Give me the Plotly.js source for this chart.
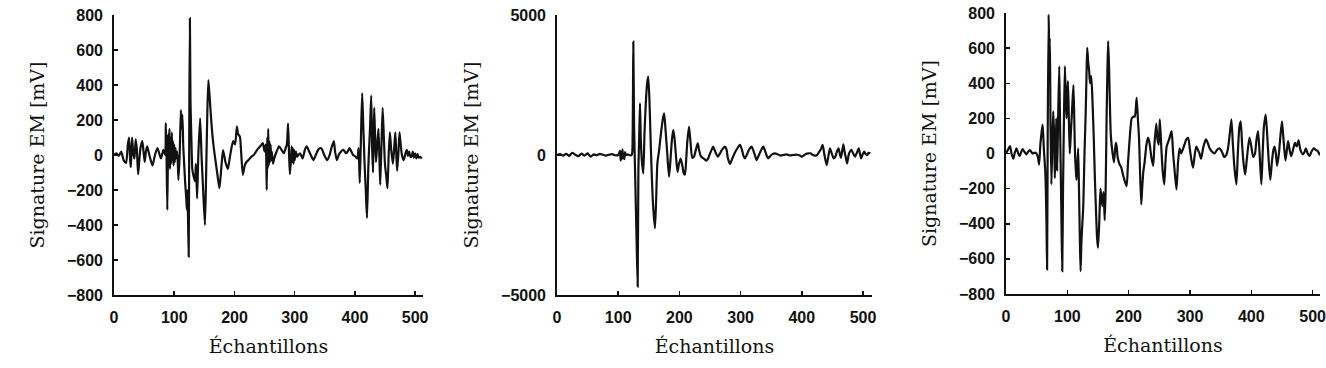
<!DOCTYPE html>
<html>
<head>
<meta charset="utf-8">
<script src="https://cdn.plot.ly/plotly-3.0.1.min.js"></script>
<style>html,body{margin:0;padding:0;background:#fff;overflow:hidden;}#chart{width:1326px;height:368px;}</style>
</head>
<body>
<div id="chart"></div>
<script>
// Signal 1 (samples, mV)
const s1x = [0,4,8,12,16,20,23,25,27,28,30,32,34,36,38,40,42,44,47,49,51,53,55,58,61,64,68,72,75,78,82,85,86,87,88.5,90,91,92,93,94,95,96,97,98,99,100,101,102,103,105,107,109,111,112,113.5,115,116,118,120,121,122,124,125,126,127,128.5,130,132,134.5,136,138,140,143,145.5,148,151,153,155,156.7,159,162,165,168,172,175,178,181,185,189,192,195,198,201,204,206,209,211,214,217,220,223,228,232,236,240,244,247,250,252,253.6,254.5,255,256,257,258,259,260,261,262,264,266,270,274,278,282,285,287,289,290.5,292,294,295,296,297,298,299,300,302,304,306,309,313,317,320,324,328,331,335,339,342,345,349,354,358,361,365,367,370,373,377,381,385,388,391,394,397,401,404,406,408,410,412,414,416,418,420,422,423,425,427,428.5,430,431,432,433.5,435,437,439,440.5,442,444,446,448,450,452,454,456,458,460,463,465,467,468.5,470,472,474,476,478,481,484,486,488,490,492,494,496,498,500,502,504,506,508,511];
const s1y = [0,10,-5,20,-30,-45,60,100,-40,-70,100,10,-20,90,30,-110,-30,40,80,20,-40,20,50,10,-30,-60,0,40,10,-20,30,0,183,50,-314,120,-60,150,-80,100,-50,130,-30,80,-60,60,-40,40,-20,20,-143,0,257,150,230,50,-20,-150,-250,-314,-200,-581,200,781,300,90,-80,-120,-150,-50,-248,0,209,-20,-200,-400,-100,250,428,320,171,60,-20,-120,-190,-80,28,-40,-80,-20,40,80,60,162,120,105,20,-114,-60,-40,-30,-10,0,20,40,55,68,20,60,-200,100,-80,150,-60,80,-40,60,-30,20,-50,-20,20,50,30,10,40,60,180,20,-110,-20,50,-40,40,-50,30,-30,20,-10,0,10,-20,30,50,20,-10,-30,0,30,40,35,0,-30,0,40,80,20,-30,0,20,30,10,20,40,20,0,-10,-20,40,-160,100,354,150,-50,-200,-360,-100,0,150,340,50,-100,100,270,100,-40,60,150,0,-170,50,270,100,-60,-120,-190,0,130,40,-50,30,130,20,-90,0,130,60,0,-30,10,30,-5,20,-10,-10,20,-15,10,-20,5,-15,-10,-20];

// Signal 2 (samples, mV)
const s2x = [0,5,10,15,20,25,30,35,40,45,50,55,60,65,70,75,80,85,90,95,100,103,104,105,106,107,108,109,110,111,113,116,119,122,123,124.7,126,128,130,131.8,133,134.5,135.6,137,139,141,143,145,147,149,151,153,155,157,160,162,164,167,170,173,175,177,180,183,185,188,190,192,195,197,199,202,205,207,209,211,213,215.7,218,221,224,227,230,232,235,238,241,244,247,250,253,255,258,261,263,266,270,274.5,277,279,282.7,286,290,295,299,302,305,307,310,314,318,321,324,326,329,333,337,340,343,345,348,352,356,360,365,370,375,380,386,392,397,400,403,407,411,414,418,422,425,428,431,434,437,440.7,443,446,449,452,455,457,460,462,464,466,468,470,472,474,476,478,481,484,487,490,493,495,497,499,502,504,507,509,512];
const s2y = [0,30,-20,40,-30,80,10,-40,50,-20,60,-60,20,-10,40,10,-20,10,30,-10,0,150,-200,100,-150,200,-100,50,-150,100,0,20,-10,0,100,4046,1000,-1000,-3000,-4700,-500,800,1845,500,-300,-655,800,1800,2500,2797,2000,500,-800,-1800,-2619,-1600,-300,200,800,1300,1488,1000,100,-774,-300,600,893,600,-200,-600,-350,-130,-400,-650,-700,-200,500,1012,500,-100,-50,200,417,200,-50,-100,-150,-200,-120,50,200,298,150,0,-60,50,200,300,200,-100,-320,-150,50,250,360,200,-50,-120,0,200,300,150,-50,-180,-50,150,300,150,-50,-120,-50,30,60,30,-20,0,20,-10,0,10,-20,-60,-20,40,60,60,0,-20,0,100,200,360,0,-360,-100,240,50,-120,-50,100,240,50,-100,150,380,100,-100,-300,-50,100,180,50,-60,80,240,50,-120,0,120,40,0,80,60];

// Signal 3 (samples, mV)
const s3x = [0,3,6.5,9,12,14,17,20,22,25,27,30,33,36,39,42,44,47,49.6,52,54,56,58,59.7,61,62,64,65,66,67,68,69.5,70.5,71.5,72.5,74,75.5,77,78.5,79.6,81,82,83.5,85,86.8,88,89.5,90.5,91.7,93,94.5,96,97.5,98.8,100,101,102.5,104,105.5,107,108.5,110,111.3,112.5,114,115,116.5,117.7,119,120.5,121.6,123,124.5,126,128,130,131.3,132.4,134,135.6,137,139,141,143,145,147,148.5,150,152,154,155.5,157,159,161,162.5,164,165.5,166.6,168,169.4,171,173.8,176,179,180.5,182,185,188,190,193,196.6,199,202,205,208,210,213,215,217,218.5,220.5,222,224,226,229,231.6,234,237,240,242,245,247,249,250.8,253,255.5,258,260,262,266,270,272.5,275,278,280.5,283,285.5,288,291,294,297,300,302.5,305,308,310.5,313,315.5,318,322,326,329,332,336,340,344,348,352,356,359,362,364.5,367.5,370,372.5,375.7,378,380.5,382.7,385,387.5,390,393,397,400,403,406,408.5,411,413.5,416.4,418.5,420.5,423.5,426,428.5,431,433.5,436,438,440,442,445,447.5,450,452.5,455.6,458,460,462.5,465,468,471,474,477,480,484,487,489,492,495,498,502,505,508,512];
const s3y = [0,20,42,0,-30,0,30,0,-15,10,25,10,-5,10,20,5,0,5,0,-20,-63,50,120,165,80,10,-100,-214,-400,-660,100,791,600,658,200,-176,50,241,100,-140,0,200,-100,200,497,200,-150,-400,-670,-200,200,497,300,200,350,412,200,0,100,200,300,390,200,0,-100,-150,-50,30,-200,-500,-670,-500,-400,-300,0,240,450,602,520,470,400,440,300,100,-150,-350,-480,-537,-400,-200,-250,-300,-220,-380,-200,200,500,640,500,280,100,0,-50,60,40,-20,-60,-80,-110,-150,-186,-50,100,200,210,210,317,200,80,-100,-290,-200,-100,-50,50,90,60,-20,-70,50,170,80,50,194,50,-100,-176,-50,40,80,127,0,-100,-205,-50,30,0,20,50,80,89,20,-40,-80,0,40,20,0,-30,40,80,60,30,10,0,20,30,10,-20,-10,30,100,194,50,-80,-176,0,150,183,50,-60,-120,-20,90,40,-20,0,80,127,0,-176,0,150,222,100,-50,-150,-50,20,40,0,-70,0,100,183,80,-40,20,70,20,-15,20,60,40,75,20,-5,10,30,0,-15,10,30,20,15,-10];

const xTickVals = [0,100,200,300,400,500];
const yTicks1 = [-800,-600,-400,-200,0,200,400,600,800];
const yTicks2 = [-5000,0,5000];
const xTitle = 'Échantillons';
const yTitle = 'Signature EM [mV]';

const lineStyle = {color:'#111', width:2.2, shape:'spline', smoothing:0.6};
const traces = [
  {x:s1x, y:s1y, xaxis:'x', yaxis:'y', type:'scatter', mode:'lines', line:lineStyle, hoverinfo:'skip'},
  {x:s2x, y:s2y, xaxis:'x2', yaxis:'y2', type:'scatter', mode:'lines', line:lineStyle, hoverinfo:'skip'},
  {x:s3x, y:s3y, xaxis:'x3', yaxis:'y3', type:'scatter', mode:'lines', line:lineStyle, hoverinfo:'skip'}
];

const tickFont = {family:'Liberation Sans, Arial, sans-serif', size:16, color:'#111', weight:'bold'};
const titleFont = {family:'DejaVu Serif, serif', size:19, color:'#111'};

function xax(domain, range, anchor){
  return {domain:domain, range:range, anchor:anchor, tickvals:xTickVals, ticks:'inside', ticklen:4, tickwidth:1.5, tickcolor:'#111',
    showline:true, linecolor:'#111', linewidth:1.8, showgrid:false, zeroline:false, mirror:false,
    tickfont:tickFont, ticklabelstandoff:7, ticklabeloverflow:'allow', title:{text:xTitle, font:titleFont, standoff:15}, fixedrange:true};
}
function yax(domain, range, anchor, tv, standoff){
  return {domain:domain, range:range, anchor:anchor, tickvals:tv, ticks:'inside', ticklen:4, tickwidth:1.5, tickcolor:'#111',
    showline:true, linecolor:'#111', linewidth:1.8, showgrid:false, zeroline:false, mirror:false,
    tickfont:tickFont, ticklabelstandoff:6, title:{text:yTitle, font:titleFont, standoff:standoff}, fixedrange:true};
}

const W = 1326, H = 368;
const layout = {
  width:W, height:H, margin:{l:0,r:0,t:0,b:0}, showlegend:false,
  paper_bgcolor:'#fff', plot_bgcolor:'#fff',
  xaxis: xax([114/W, 423/W], [0, 513], 'y'),
  yaxis: yax([73/H, 353/H], [-800, 800], 'x', yTicks1, 17),
  xaxis2: xax([557/W, 872/W], [0, 514.7], 'y2'),
  yaxis2: yax([73/H, 353/H], [-5000, 5000], 'x2', yTicks2, 17),
  xaxis3: xax([1006/W, 1320/W], [0, 512], 'y3'),
  yaxis3: yax([74/H, 355/H], [-800, 800], 'x3', yTicks1, 17)
};

Plotly.newPlot('chart', traces, layout, {staticPlot:true, displayModeBar:false});
</script>
</body>
</html>
